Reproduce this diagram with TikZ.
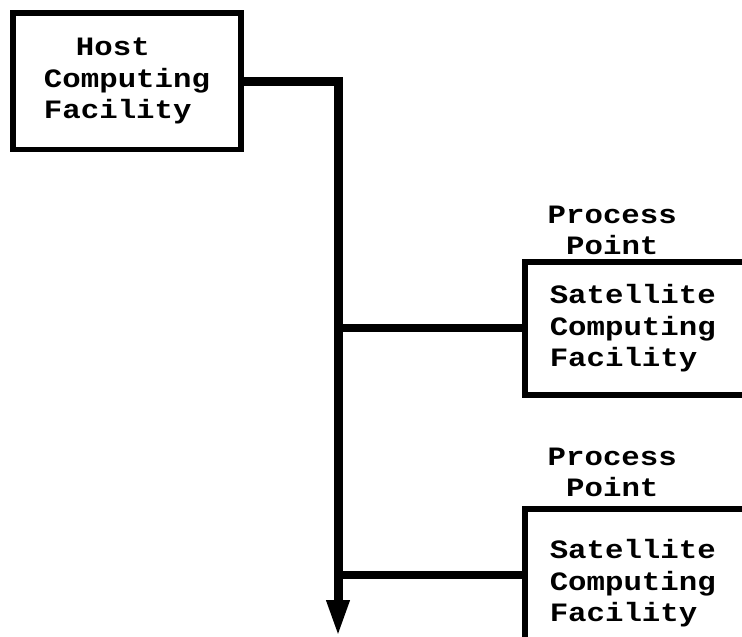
\documentclass[tikz,border=0pt]{standalone}
\usepackage{fontspec}
\setmonofont{Liberation Mono}[FakeStretch=1.16]
\usetikzlibrary{arrows.meta,positioning}
\tikzset{every node/.style={font=\ttfamily\bfseries\fontsize{26.5}{31.5}\selectfont},
 facility/.style={draw,line width=5.5pt,align=left,inner ysep=0pt},
 satbox/.style={facility,anchor=north west,minimum height=133pt,text width=255pt,inner xsep=25pt},
 ppoint/.style={anchor=south west,align=left,inner sep=0pt},
 bus/.style={line width=9pt,-{Triangle[length=37pt,width=21pt]}},
 branch/.style={line width=8pt}}

\begin{document}
\begin{tikzpicture}[x=1pt,y=-1pt]
\useasboundingbox (0,0) rectangle (742,637);
\clip (0,0) rectangle (742,637);
\node[facility,minimum width=228pt,minimum height=136.5pt] (host) at (127,81.25)
 {\hspace*{32pt}Host\\Computing\\Facility};
\node[satbox] (sat1) at (522,259) {Satellite\\Computing\\Facility};
\node[satbox] (sat2) at (522,506) {\rule{0pt}{35pt}Satellite\\Computing\\Facility};
\node[ppoint] (pp1) at ([xshift=25.5pt,yshift=4pt]sat1.north west) {Process\\\hspace*{18.5pt}Point};
\node[ppoint] (pp2) at ([xshift=25.5pt,yshift=9pt]sat2.north west) {Process\\\hspace*{18.5pt}Point};
\coordinate (busend) at (338,637);
\draw[bus] (host.east) -| (busend);
\draw[branch] (sat1.west -| busend) -- (sat1.west);
\draw[branch] (sat2.west -| busend) -- (sat2.west);
\end{tikzpicture}
\end{document}
